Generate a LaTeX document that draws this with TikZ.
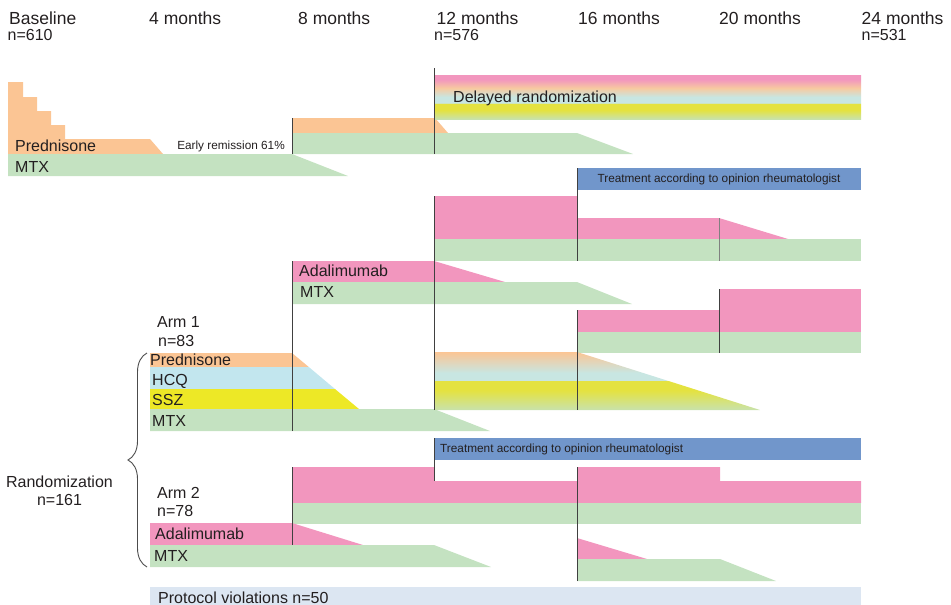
\documentclass[tikz,border=0pt]{standalone}
\usepackage{fontspec}
\setmainfont{Liberation Sans}
\usetikzlibrary{decorations.pathreplacing}
\definecolor{txt}{RGB}{35,31,32}
\definecolor{pred}{RGB}{251,197,148}
\definecolor{mtx}{RGB}{196,226,193}
\definecolor{ada}{RGB}{242,150,190}
\definecolor{hcq}{RGB}{194,230,238}
\definecolor{ssz}{RGB}{237,232,38}
\definecolor{treat}{RGB}{113,150,203}
\definecolor{viol}{RGB}{220,230,242}
\definecolor{gbot}{RGB}{200,226,172}
\definecolor{gyel}{RGB}{228,226,64}
\definecolor{gblue}{RGB}{200,230,226}
\definecolor{gora}{RGB}{247,202,160}
\pgfdeclareverticalshading{delayed}{100bp}{color(0bp)=(gbot); color(25bp)=(gbot); color(35bp)=(gyel); color(42.4bp)=(gyel); color(43.4bp)=(gblue); color(50bp)=(gblue); color(60bp)=(gora); color(70bp)=(ada); color(100bp)=(ada)}
\pgfdeclareverticalshading{armone}{100bp}{color(0bp)=(gbot); color(25bp)=(gbot); color(42bp)=(gyel); color(50bp)=(gyel); color(50.8bp)=(gblue); color(57bp)=(gblue); color(75bp)=(pred); color(100bp)=(pred)}
\begin{document}
\begin{tikzpicture}[x=1pt,y=-1pt,
  hd/.style={font=\fontsize{17.5}{20}\selectfont, text=txt, anchor=base west, inner sep=0pt},
  lbl/.style={font=\fontsize{16}{18}\selectfont, text=txt, anchor=base west, inner sep=0pt},
  note/.style={font=\fontsize{11.8}{13}\selectfont, text=txt, inner sep=0pt},
  tline/.style={draw=black!75, line width=1pt},
  tthin/.style={draw=black!50, line width=0.8pt}]
\useasboundingbox (0,0) rectangle (951,605);
\node[hd] (hbase) at (9,24) {Baseline};
\node[lbl] (nbase) at (7.5,40.5) {n=610};
\node[hd] (h4) at (149,24) {4 months};
\node[hd] (h8) at (298,24) {8 months};
\node[hd] (h12) at (436.5,24) {12 months};
\node[lbl] (n12) at (434,40.5) {n=576};
\node[hd] (h16) at (578,24) {16 months};
\node[hd] (h20) at (719,24) {20 months};
\node[hd] (h24) at (861.5,24) {24 months};
\node[lbl] (n24) at (861.5,40.5) {n=531};
\fill[pred] (8,82) -- (23,82) -- (23,97) -- (37,97) -- (37,111) -- (51,111) -- (51,125) -- (65,125) -- (65,139) -- (150,139) -- (163,154) -- (8,154) -- cycle;
\fill[mtx] (8,154) -- (292,154) -- (348,176) -- (8,176) -- cycle;
\node[lbl] (tpred) at (15,151.5) {Prednisone};
\node[lbl] (tmtx) at (15,172.5) {MTX};
\node[note, anchor=base east] (early) at (285,149) {Early remission 61\%};
\fill[pred] (292,118) -- (435,118) -- (448,133) -- (292,133) -- cycle;
\fill[mtx] (292,133) -- (577,133) -- (633,154) -- (292,154) -- cycle;
\shade[shading=delayed] (434,75) rectangle (861,119);
\node[lbl] (delayed) at (453,102) {Delayed randomization};
\draw[tline] (292,118) -- (292,154);
\draw[tline] (434,68) -- (434,154);
\fill[treat] (577,168) rectangle (861,190);
\node[note, anchor=base] (treatA) at (719,182.5) {Treatment according to opinion rheumatologist};
\fill[ada] (434,196) rectangle (577,239);
\fill[ada] (577,218) -- (719,218) -- (788,239) -- (577,239) -- cycle;
\fill[mtx] (434,239) rectangle (861,261);
\fill[ada] (292,261) -- (434,261) -- (505,282) -- (292,282) -- cycle;
\fill[mtx] (292,282) -- (577,282) -- (632,304) -- (292,304) -- cycle;
\node[lbl] (adaA) at (299,276) {Adalimumab};
\node[lbl] (mtxA) at (300,297.5) {MTX};
\fill[ada] (577,310) rectangle (719,332);
\fill[ada] (719,289) rectangle (861,332);
\fill[mtx] (577,332) rectangle (861,353);
\node[lbl] (arm1) at (157,327.3) {Arm 1};
\node[lbl] (n1) at (158,346) {n=83};
\fill[pred] (150,353) -- (292,353) -- (308.8,367) -- (150,367) -- cycle;
\fill[hcq] (150,367) -- (308.8,367) -- (335,389) -- (150,389) -- cycle;
\fill[ssz] (150,389) -- (335,389) -- (359,409) -- (150,409) -- cycle;
\fill[mtx] (150,409) -- (434,409) -- (490,431) -- (150,431) -- cycle;
\node[lbl] (pred1) at (150,365) {Prednisone};
\node[lbl] (hcq1) at (152,385) {HCQ};
\node[lbl] (ssz1) at (152,405.5) {SSZ};
\node[lbl] (mtx1) at (152,426.5) {MTX};
\shade[shading=armone] (434,352) -- (577,352) -- (760,410) -- (434,410) -- cycle;
\fill[treat] (434,438) rectangle (861,460);
\node[note, anchor=base west] (treatB) at (440,452.7) {Treatment according to opinion rheumatologist};
\fill[ada] (292,467) -- (434,467) -- (434,481) -- (577,481) -- (577,467) -- (720,467) -- (720,481) -- (861,481) -- (861,503) -- (292,503) -- cycle;
\fill[mtx] (292,503) rectangle (861,524);
\node[lbl] (arm2) at (157,498.3) {Arm 2};
\node[lbl] (n2) at (157,516.7) {n=78};
\fill[ada] (150,523) -- (292,523) -- (363,545) -- (150,545) -- cycle;
\fill[mtx] (150,545) -- (434,545) -- (491,567) -- (150,567) -- cycle;
\node[lbl] (ada2) at (155,539.3) {Adalimumab};
\node[lbl] (mtx2) at (154,561.7) {MTX};
\fill[ada] (577,538) -- (647,559) -- (577,559) -- cycle;
\fill[mtx] (577,559) -- (720,559) -- (776,581) -- (577,581) -- cycle;
\fill[viol] (150,587) rectangle (861,605);
\node[lbl] (viol) at (158,603) {Protocol violations n=50};
\draw[tline] (434,196) -- (434,410);
\draw[tline] (577,168) -- (577,261);
\draw[tthin] (719,218) -- (719,261);
\draw[tline] (292,261) -- (292,431);
\draw[tline] (577,310) -- (577,410);
\draw[tline] (719,289) -- (719,353);
\draw[tline] (434,438) -- (434,481);
\draw[tline] (292,467) -- (292,545);
\draw[tline] (577,467) -- (577,581);
\draw[draw=black!70, line width=0.9pt, decorate, decoration={brace, amplitude=19pt}] (147,567) -- (147,353);
\node[lbl, anchor=base] (rand) at (59.5,487.3) {Randomization};
\node[lbl, anchor=base] (nrand) at (59.5,505) {n=161};
\end{tikzpicture}
\end{document}
